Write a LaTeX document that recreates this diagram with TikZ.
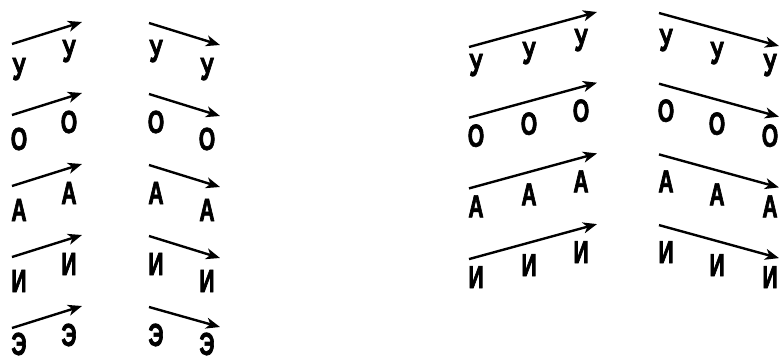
\documentclass[tikz,border=0pt]{standalone}
\usepackage{fontspec}
\setmainfont{Liberation Sans}
\newfontfamily\lettfont[FakeStretch=0.66,FakeBold=2]{Liberation Sans Bold}
\usetikzlibrary{arrows.meta}
\begin{document}
\begin{tikzpicture}[x=1pt,y=-1pt,
  lett/.style={font=\lettfont\fontsize{32}{32}\selectfont, inner sep=0pt, anchor=base},
  arr/.style={line width=2.4pt, -{Stealth[length=14pt,width=11pt,inset=4pt]}}]
\useasboundingbox (0,0) rectangle (779,361);
% left group: two letters per arrow
\foreach \r/\L/\B/\E in {0/У/36/1,1/О/35/1,2/А/35/1,3/И/35/1,4/Э/27/-1}{
  \pgfmathsetmacro\S{44+71*\r}
  \node[lett] (la\r) at (19,{\S+\B}) {\L};
  \node[lett] (lb\r) at (69,{\S+18}) {\L};
  \coordinate (lrs\r) at (12,\S);
  \coordinate (lre\r) at (82,{\S-22});
  \draw[arr] (lrs\r) -- (lre\r);
  \node[lett] (lc\r) at (156,{\S+18}) {\L};
  \node[lett] (ld\r) at (207,{\S+\B}) {\L};
  \coordinate (lfs\r) at (149,{\S-21});
  \coordinate (lfe\r) at (220,{\S+\E});
  \draw[arr] (lfs\r) -- (lfe\r);
}
% right group: three letters per arrow
\foreach \r/\L in {0/У,1/О,2/А,3/И}{
  \pgfmathsetmacro\S{47+70.7*\r}
  \node[lett] (ra\r) at (476,{\S+29}) {\L};
  \node[lett] (rb\r) at (529,{\S+17}) {\L};
  \node[lett] (rc\r) at (581,{\S+4}) {\L};
  \coordinate (rrs\r) at (469,\S);
  \coordinate (rre\r) at (597,{\S-35});
  \draw[arr] (rrs\r) -- (rre\r);
  \node[lett] (rd\r) at (666,{\S+4}) {\L};
  \node[lett] (re\r) at (717,{\S+17}) {\L};
  \node[lett] (rf\r) at (770,{\S+29}) {\L};
  \coordinate (rfs\r) at (659,{\S-34});
  \coordinate (rfe\r) at (779,{\S-1});
  \draw[arr] (rfs\r) -- (rfe\r);
}
\end{tikzpicture}
\end{document}
